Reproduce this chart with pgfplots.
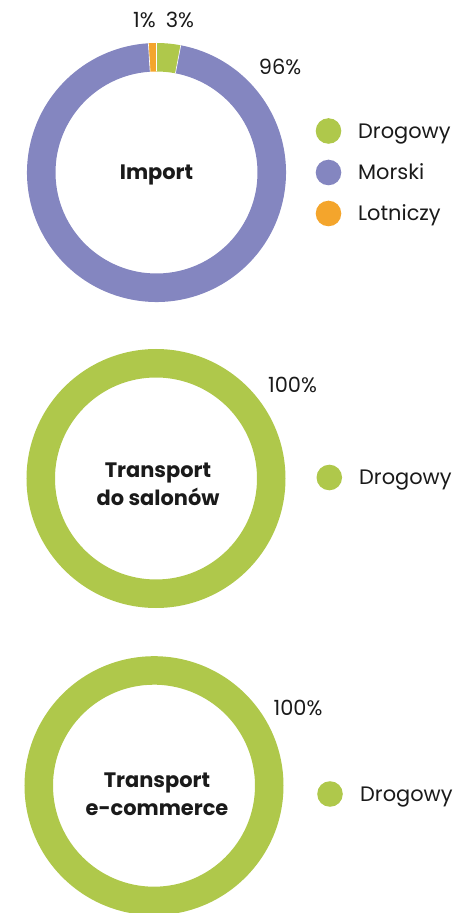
\documentclass[border=0pt]{standalone}
\usepackage{fontspec}
\setmainfont{Poppins}
\usepackage{pgfplots}
\pgfplotsset{compat=1.18}

\definecolor{cDrog}{HTML}{AFC84B}
\definecolor{cMors}{HTML}{8486C0}
\definecolor{cLotn}{HTML}{F4A52C}
\definecolor{txt}{HTML}{1A1A1A}

\tikzset{
  lbl/.style={text=txt, inner sep=0pt, font=\fontsize{21}{24}\selectfont},
  ctr/.style={text=txt, inner sep=0pt, font=\fontsize{21}{28}\selectfont\bfseries, align=center},
}

% ring sector: centre x, centre y, from %, to %, colour (clockwise from 12 o'clock)
\newcommand{\slice}[5]{%
  \fill[#5] ([shift={({90-3.6*#3}:129.5bp)}]axis cs:#1,#2)
    arc[start angle={90-3.6*#3}, end angle={90-3.6*#4}, radius=129.5bp]
    -- ([shift={({90-3.6*#4}:101bp)}]axis cs:#1,#2)
    arc[start angle={90-3.6*#4}, end angle={90-3.6*#3}, radius=101bp] -- cycle;}
\newcommand{\legdot}[3]{%
  \fill[#3] (axis cs:#1,#2) circle[radius=12.8bp];}

\begin{document}
\begin{tikzpicture}
\useasboundingbox (0,0) rectangle (457bp,913bp);
\begin{axis}[
    at={(0,0)}, anchor=south west,
    scale only axis,
    x=1bp, y=1bp,
    xmin=0, xmax=457, ymin=0, ymax=913,
    hide axis,
    clip=true,
]
% ---- Import: Drogowy 3, Morski 96, Lotniczy 1
\slice{156.5}{740.5}{0}{3}{cDrog}
\slice{156.5}{740.5}{3}{99}{cMors}
\slice{156.5}{740.5}{99}{100}{cLotn}
\draw[white, line width=0.6bp] ([shift={(90:101bp)}]axis cs:156.5,740.5) -- ++(90:28.5bp);
\draw[white, line width=0.6bp] ([shift={(79.2:101bp)}]axis cs:156.5,740.5) -- ++(79.2:28.5bp);
\draw[white, line width=0.6bp] ([shift={(93.6:101bp)}]axis cs:156.5,740.5) -- ++(93.6:28.5bp);
\node[lbl, anchor=base] at (axis cs:144.5,885.5) {1\%};
\node[lbl, anchor=base] at (axis cs:180,885.5) {3\%};
\node[lbl, anchor=base] at (axis cs:280,838.5) {96\%};
\node[ctr, anchor=base] at (axis cs:156.5,733.5) {Import};
\legdot{328.5}{782}{cDrog}
\legdot{328.5}{740.5}{cMors}
\legdot{328.5}{699.5}{cLotn}
\node[lbl, anchor=base west] at (axis cs:358,774.5) {Drogowy};
\node[lbl, anchor=base west] at (axis cs:358,733) {Morski};
\node[lbl, anchor=base west] at (axis cs:358,692) {Lotniczy};

% ---- Transport do salonów: Drogowy 100
\slice{156}{434.5}{0}{100}{cDrog}
\node[lbl, anchor=base] at (axis cs:292.5,520.5) {100\%};
\node[ctr, anchor=center] at (axis cs:158,429) {Transport\\do salonów};
\legdot{329.3}{435.5}{cDrog}
\node[lbl, anchor=base west] at (axis cs:359,428) {Drogowy};

% ---- Transport e-commerce: Drogowy 100
\slice{154}{127.3}{0}{100}{cDrog}
\node[lbl, anchor=base] at (axis cs:298,197.5) {100\%};
\node[ctr, anchor=center] at (axis cs:157,119) {Transport\\e-commerce};
\legdot{330}{119}{cDrog}
\node[lbl, anchor=base west] at (axis cs:360,111.5) {Drogowy};
\end{axis}
\end{tikzpicture}
\end{document}
